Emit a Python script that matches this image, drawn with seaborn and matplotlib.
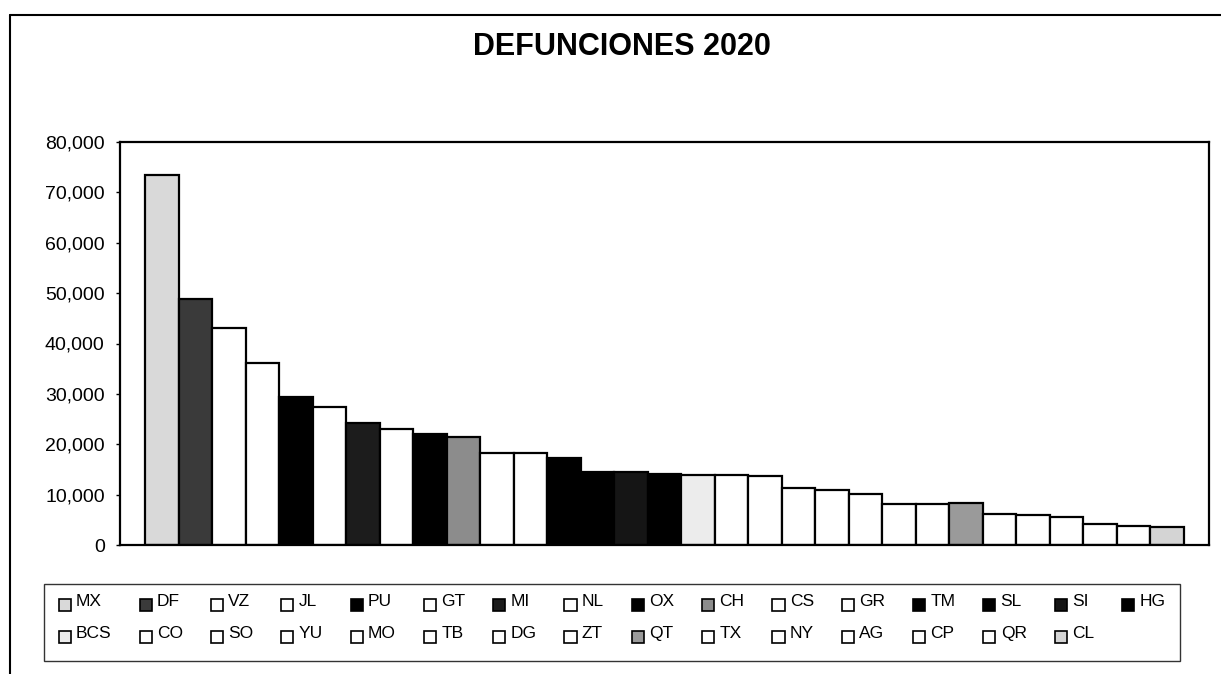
import matplotlib
matplotlib.use('Agg')
import matplotlib.pyplot as plt
from matplotlib.patches import Patch
from matplotlib.ticker import FuncFormatter
import pandas as pd
import seaborn as sns

# Data
estados = ['MX', 'DF', 'VZ', 'JL', 'PU', 'GT', 'MI', 'NL', 'OX', 'CH', 'CS',
           'GR', 'TM', 'SL', 'SI', 'HG', 'BCS', 'CO', 'SO', 'YU', 'MO', 'TB',
           'DG', 'ZT', 'QT', 'TX', 'NY', 'AG', 'CP', 'QR', 'CL']
defunciones = [73400, 48800, 43000, 36100, 29400, 27300, 24200, 23000, 22000,
               21400, 18300, 18300, 17300, 14500, 14400, 14100, 13900, 13900,
               13600, 11300, 10900, 10100, 8200, 8200, 8400, 6200, 6000, 5600,
               4200, 3800, 3500]
colores = ['#d9d9d9', '#3a3a3a', '#ffffff', '#ffffff', '#000000', '#ffffff',
           '#1c1c1c', '#ffffff', '#000000', '#8c8c8c', '#ffffff', '#ffffff',
           '#000000', '#000000', '#151515', '#000000', '#ececec', '#ffffff',
           '#ffffff', '#ffffff', '#ffffff', '#ffffff', '#ffffff', '#ffffff',
           '#9a9a9a', '#ffffff', '#ffffff', '#ffffff', '#ffffff', '#ffffff',
           '#d4d4d4']

df = pd.DataFrame({'estado': estados, 'defunciones': defunciones})
paleta = dict(zip(estados, colores))

sns.set_style('white')
plt.rcParams['font.family'] = ['Liberation Sans', 'DejaVu Sans']
plt.rcParams['text.color'] = 'black'
plt.rcParams['ytick.color'] = 'black'

fig = plt.figure(figsize=(12.21, 6.74), dpi=100)
ax = fig.add_axes([120 / 1221, 1 - 545 / 674, 1089 / 1221, 403 / 674])

sns.barplot(data=df, x='estado', y='defunciones', hue='estado', order=estados,
            hue_order=estados, palette=paleta, width=1.0, edgecolor='black',
            linewidth=1.6, saturation=1, legend=False, ax=ax)

# Axes styling
ax.set_xlim(-1.25, 31.25)
ax.set_ylim(0, 80000)
ax.set_yticks(range(0, 80001, 10000))
ax.yaxis.set_major_formatter(FuncFormatter(lambda v, p: f'{v:,.0f}'))
ax.set_xticks([])
ax.set_xlabel('')
ax.set_ylabel('')
ax.tick_params(axis='y', labelsize=14, length=3, width=1, color='black',
               left=True, pad=8)
for s in ax.spines.values():
    s.set_visible(True)
    s.set_color('black')
    s.set_linewidth(1.6)

fig.suptitle('DEFUNCIONES 2020', x=622 / 1221, y=1 - 32 / 674,
             fontsize=22, fontweight='bold', color='black')

# Legend: two rows, filled row by row like the original
orden = []
for j in range(15):
    orden += [estados[j], estados[16 + j]]
orden.append(estados[15])
handles = [Patch(facecolor=paleta[e], edgecolor='black', linewidth=1.2, label=e)
           for e in orden]
leg = fig.legend(handles=handles, ncol=16, loc='upper left',
                 bbox_to_anchor=(44 / 1221, 1 - 664 / 674, 1136 / 1221, 80 / 674),
                 mode='expand', fontsize=12.5, handlelength=0.7,
                 handleheight=0.7, handletextpad=0.3, labelspacing=1.0,
                 borderpad=0.85, frameon=True, fancybox=False, borderaxespad=0)
leg.get_frame().set_edgecolor('black')
leg.get_frame().set_linewidth(1.0)
for t in leg.get_texts():
    t.set_position((0, 5))

# Outer chart border (left and top visible in the picture)
fig.add_artist(plt.Line2D([10 / 1221, 10 / 1221], [0, 1 - 15 / 674],
                          transform=fig.transFigure, color='black', lw=1.5))
fig.add_artist(plt.Line2D([10 / 1221, 1], [1 - 15 / 674, 1 - 15 / 674],
                          transform=fig.transFigure, color='black', lw=1.5))

fig.savefig('out.png', dpi=100)
